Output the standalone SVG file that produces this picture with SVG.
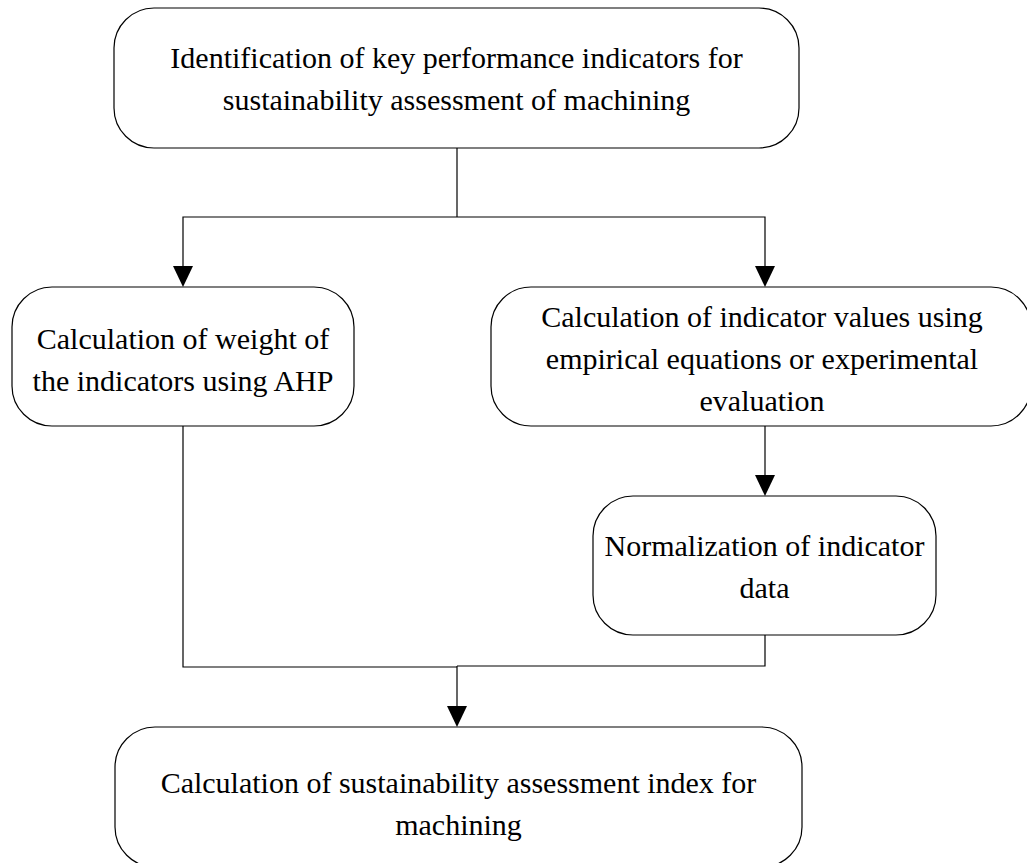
<svg xmlns="http://www.w3.org/2000/svg" width="1027" height="863" viewBox="0 0 1027 863">
<style>
.box{fill:#fff;stroke:#000;stroke-width:1.2}
.t{font-family:"Liberation Serif","Times New Roman",serif;font-size:30px;fill:#000;text-anchor:middle}
.c{fill:none;stroke:#000;stroke-width:1.2}
</style>
<defs>
<marker id="ah" markerWidth="20" markerHeight="21" refX="10" refY="21" orient="auto" markerUnits="userSpaceOnUse" viewBox="0 0 20 21">
<path d="M0,0 L20,0 L10,21 Z" fill="#000" transform="rotate(-90 10 10.5)"/>
</marker>
<path id="arr" d="M-10,-21 L10,-21 L0,0 Z" fill="#000"/>
</defs>
<rect width="1027" height="863" fill="#fff"/>
<g id="connectors">
<polyline class="c" points="457,148 457,217"/>
<polyline class="c" points="183,266 183,217 765,217 765,266"/>
<polyline class="c" points="765,426 765,476"/>
<polyline class="c" points="183,426 183,667 457,667"/>
<polyline class="c" points="765,635 765,666 457,666"/>
<polyline class="c" points="457,666 457,707"/>
<use href="#arr" x="183" y="287"/>
<use href="#arr" x="765" y="287"/>
<use href="#arr" x="765" y="496"/>
<use href="#arr" x="457" y="727"/>
</g>
<g id="n1">
<rect class="box" x="114" y="8" width="685" height="140" rx="40" ry="40"/>
<text class="t" x="456.5" y="68">Identification of key performance indicators for</text>
<text class="t" x="456.5" y="110">sustainability assessment of machining</text>
</g>
<g id="n2">
<rect class="box" x="12" y="287" width="342" height="139" rx="40" ry="40"/>
<text class="t" x="183" y="349">Calculation of weight of</text>
<text class="t" x="183" y="391">the indicators using AHP</text>
</g>
<g id="n3">
<rect class="box" x="491" y="287" width="540" height="139" rx="40" ry="40"/>
<text class="t" x="762" y="327">Calculation of indicator values using</text>
<text class="t" x="762" y="369">empirical equations or experimental</text>
<text class="t" x="762" y="411">evaluation</text>
</g>
<g id="n4">
<rect class="box" x="593" y="496" width="343" height="139" rx="40" ry="40"/>
<text class="t" x="764.5" y="556">Normalization of indicator</text>
<text class="t" x="764.5" y="598">data</text>
</g>
<g id="n5">
<rect class="box" x="115" y="727" width="687" height="140" rx="40" ry="40"/>
<text class="t" x="458.5" y="793">Calculation of sustainability assessment index for</text>
<text class="t" x="458.5" y="835">machining</text>
</g>
</svg>
